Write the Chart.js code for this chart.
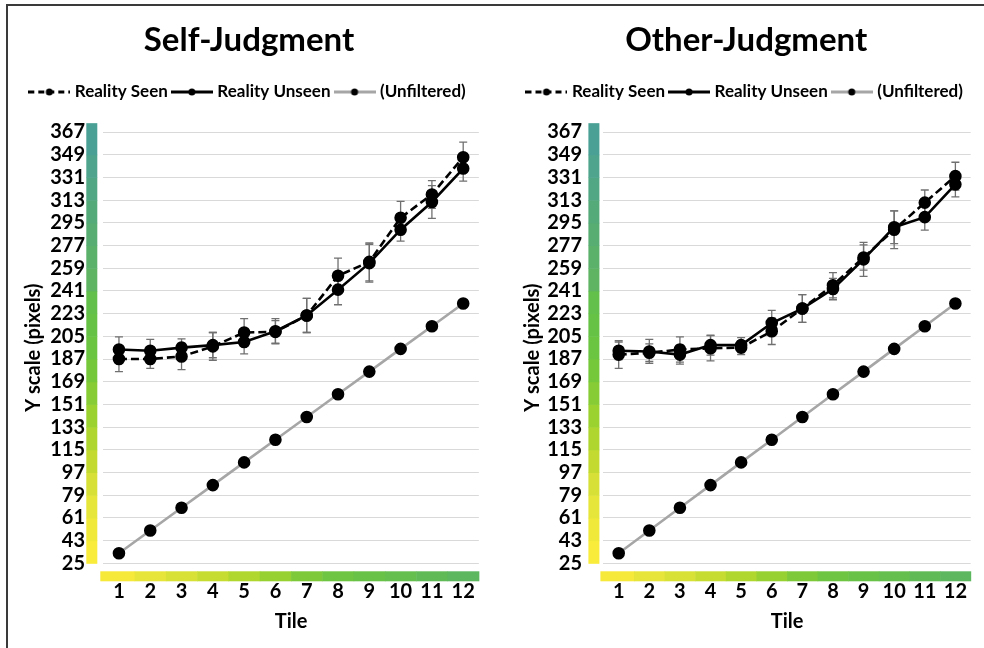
<!DOCTYPE html>
<html>
<head>
<meta charset="utf-8">
<title>Self-Judgment / Other-Judgment</title>
<script src="https://cdn.jsdelivr.net/npm/chart.js@4.4.1/dist/chart.umd.min.js"></script>
<style>
  html, body { margin: 0; padding: 0; background: #fff; }
  #frame { position: absolute; left: 6px; top: 4px; width: 990px; height: 660px;
           border-top: 2px solid #3a3a3a; border-left: 2px solid #3a3a3a; }
  canvas { position: absolute; top: 0; }
  #selfChart { left: 8px; }
  #otherChart { left: 500px; }
</style>
</head>
<body>
<div id="frame"></div>
<canvas id="selfChart" width="484" height="648"></canvas>
<canvas id="otherChart" width="484" height="648"></canvas>

<script>
// Datos
const tiles = ['1', '2', '3', '4', '5', '6', '7', '8', '9', '10', '11', '12'];
const yTicks = [25, 43, 61, 79, 97, 115, 133, 151, 169, 187, 205, 223, 241, 259, 277, 295, 313, 331, 349, 367];

// linea gris (sin filtro)
const unfiltered = [33, 51, 69, 87, 105, 123, 141, 159, 177, 195, 213, 231];

// Self-Judgment
const selfSeen       = [187, 187, 189, 197, 208, 208.5, 221.5, 253, 264, 299, 317.5, 347];
const selfSeenErr    = [10, 7.5, 10.5, 11, 11, 9, 13.5, 14, 15, 13, 11, 12];
const selfUnseen     = [194.5, 193.5, 196, 198, 200.5, 209, 221.5, 242, 263, 289.5, 311.5, 338];
const selfUnseenErr  = [10, 9, 7, 10, 9.5, 10, 13.5, 12, 15, 9, 13, 10];

// Other-Judgment
const otherSeen      = [190.5, 192, 194.5, 195.5, 196, 209, 227, 245.5, 267.5, 289.5, 311, 332];
const otherSeenErr   = [11, 7, 10, 10, 5.5, 10.5, 11, 10, 10, 15, 10, 11];
const otherUnseen    = [193.5, 193, 190.5, 198, 198, 215.5, 227, 242.5, 266, 291.5, 299.5, 325.5];
const otherUnseenErr = [7, 9.5, 7.5, 8, 6, 10, 11, 8.5, 13.5, 13, 10.3, 10];

// colores de las barras de escala
const tileColors = ['#f7e93a', '#e8e53a', '#d7e136', '#c6dc31', '#b0d72e', '#96d031',
                    '#7dc939', '#6ec541', '#68c247', '#64bf4e', '#60bb56', '#5cb75e'];
const scaleColors = ['#f9ec3a', '#f1e93a', '#e6e53a', '#d6e036', '#c3db31', '#afd62e',
                     '#9cd22f', '#87cc34', '#76c83b', '#6bc541', '#66c245', '#63c04a',
                     '#5eb462', '#5bb06a', '#58ad72', '#55aa7a', '#51a783', '#4ea48c', '#4aa095'];

Chart.defaults.font.family = 'Lato';
Chart.defaults.color = '#000';

// Muestras de la leyenda (linea + punto)
function muestraLeyenda(color, dash) {
    const c = document.createElement('canvas');
    c.width = 42; c.height = 10;
    const g = c.getContext('2d');
    g.strokeStyle = color;
    g.lineWidth = 3;
    g.setLineDash(dash);
    g.beginPath(); g.moveTo(0, 5); g.lineTo(42, 5); g.stroke();
    g.fillStyle = '#000';
    g.beginPath(); g.arc(21, 5, 3.5, 0, Math.PI * 2); g.fill();
    return c;
}
const muestras = [muestraLeyenda('#000', [6, 4]), muestraLeyenda('#000', []), muestraLeyenda('#a6a6a6', [])];

// Barras de color junto a los ejes
const barrasColor = {
    id: 'barrasColor',
    afterDraw(chart, args, opts) {
        const ctx = chart.ctx;
        const x = chart.scales.x, y = chart.scales.y;
        const area = chart.chartArea;
        ctx.save();
        // vertical
        for (let k = 0; k < scaleColors.length; k++) {
            const lo = yTicks[k];
            const hi = k === scaleColors.length - 1 ? yTicks[k + 1] + 7 : yTicks[k + 1];
            const yTop = y.getPixelForValue(hi), yBot = y.getPixelForValue(lo);
            ctx.fillStyle = scaleColors[k];
            ctx.fillRect(area.left - opts.vOffset, yTop, 11, yBot - yTop + 0.5);
        }
        // horizontal
        const half = (x.getPixelForValue(1) - x.getPixelForValue(0)) / 2;
        tiles.forEach((t, i) => {
            const cx = x.getPixelForValue(i);
            ctx.fillStyle = tileColors[i];
            ctx.fillRect(cx - half - (i === 0 ? 3 : 0), area.bottom + 8, 2 * half + 0.5 + (i === 0 ? 3 : 0), 10);
        });
        ctx.restore();
    }
};

// Barras de error
const barrasError = {
    id: 'barrasError',
    beforeDatasetsDraw(chart) {
        const ctx = chart.ctx;
        const y = chart.scales.y;
        ctx.save();
        ctx.strokeStyle = '#707070';
        ctx.lineWidth = 1.3;
        chart.data.datasets.forEach((ds, di) => {
            if (!ds.errores) return;
            const meta = chart.getDatasetMeta(di);
            meta.data.forEach((pt, i) => {
                const e = ds.errores[i];
                const y1 = y.getPixelForValue(ds.data[i] + e);
                const y2 = y.getPixelForValue(ds.data[i] - e);
                ctx.beginPath();
                ctx.moveTo(pt.x, y1); ctx.lineTo(pt.x, y2);
                ctx.moveTo(pt.x - 4, y1); ctx.lineTo(pt.x + 4, y1);
                ctx.moveTo(pt.x - 4, y2); ctx.lineTo(pt.x + 4, y2);
                ctx.stroke();
            });
        });
        ctx.restore();
    }
};

function crearGrafica(id, titulo, seen, seenErr, unseen, unseenErr, p) {
    const ctx = document.getElementById(id).getContext('2d');
    return new Chart(ctx, {
        type: 'line',
        data: {
            labels: tiles,
            datasets: [
                { label: 'Reality Seen', data: seen, errores: seenErr,
                  borderColor: '#000', borderWidth: 2.6, borderDash: [8, 4],
                  pointRadius: 5, pointBackgroundColor: '#000', pointBorderColor: '#000', tension: 0 },
                { label: 'Reality Unseen', data: unseen, errores: unseenErr,
                  borderColor: '#000', borderWidth: 2.6,
                  pointRadius: 5, pointBackgroundColor: '#000', pointBorderColor: '#000', tension: 0 },
                { label: '(Unfiltered)', data: unfiltered,
                  borderColor: '#a6a6a6', borderWidth: 2.6,
                  pointRadius: 5, pointBackgroundColor: '#000', pointBorderColor: '#000', tension: 0 }
            ]
        },
        options: {
            responsive: false,
            animation: false,
            events: [],
            layout: { padding: { left: p.padLeft, right: p.padRight, top: 0, bottom: 0 } },
            plugins: {
                title: {
                    display: true, text: titulo, color: '#000',
                    font: { size: 33, weight: 'bold' },
                    padding: { top: 20.2, bottom: 16.7 }, weight: 2000
                },
                legend: {
                    display: true, position: 'top', weight: 1700,
                    labels: {
                        usePointStyle: true, pointStyleWidth: 34, padding: 7,
                        font: { size: 17, weight: 'bold' }, color: '#000',
                        generateLabels: chart => chart.data.datasets.map((ds, i) => ({
                            text: ds.label, pointStyle: muestras[i], datasetIndex: i,
                            fontColor: '#000', hidden: false, lineWidth: 0,
                            strokeStyle: 'transparent', fillStyle: 'transparent'
                        }))
                    }
                },
                subtitle: { display: true, text: '', font: { size: 1 }, padding: { top: 20.3, bottom: 0 }, weight: 1500 },
                tooltip: { enabled: false },
                barrasColor: { vOffset: p.vOffset }
            },
            scales: {
                x: {
                    offset: true,
                    grid: { display: false, drawTicks: false },
                    border: { display: false },
                    ticks: { font: { size: 20, weight: 'bold' }, color: '#000', padding: 16.7, maxRotation: 0, autoSkip: false },
                    title: { display: true, text: 'Tile', font: { size: 20, weight: 'bold' }, color: '#000', padding: { top: 0, bottom: 14 } },
                    afterFit: s => { s.height = 84.7; }
                },
                y: {
                    min: 25, max: 367,
                    afterBuildTicks: s => { s.ticks = yTicks.map(v => ({ value: v })); },
                    grid: { color: '#d9d9d9', lineWidth: 1, drawTicks: false },
                    border: { display: false },
                    ticks: { font: { size: 20, weight: 'bold' }, color: '#000', padding: p.tickPad, autoSkip: false },
                    title: { display: true, text: 'Y scale (pixels)', font: { size: 20, weight: 'bold' }, color: '#000', padding: { top: p.titlePad, bottom: 0 } },
                    afterFit: s => { s.width = p.yWidth; }
                }
            }
        },
        plugins: [barrasColor, barrasError]
    });
}

crearGrafica('selfChart', 'Self-Judgment', selfSeen, selfSeenErr, selfUnseen, selfUnseenErr,
    { padLeft: 10, padRight: 12, yWidth: 85.3, tickPad: 18.3, titlePad: 3.5, vOffset: 17 });
crearGrafica('otherChart', 'Other-Judgment', otherSeen, otherSeenErr, otherUnseen, otherUnseenErr,
    { padLeft: 14, padRight: 5.6, yWidth: 89.4, tickPad: 21.4, titlePad: 7, vOffset: 15 });
</script>
</body>
</html>
